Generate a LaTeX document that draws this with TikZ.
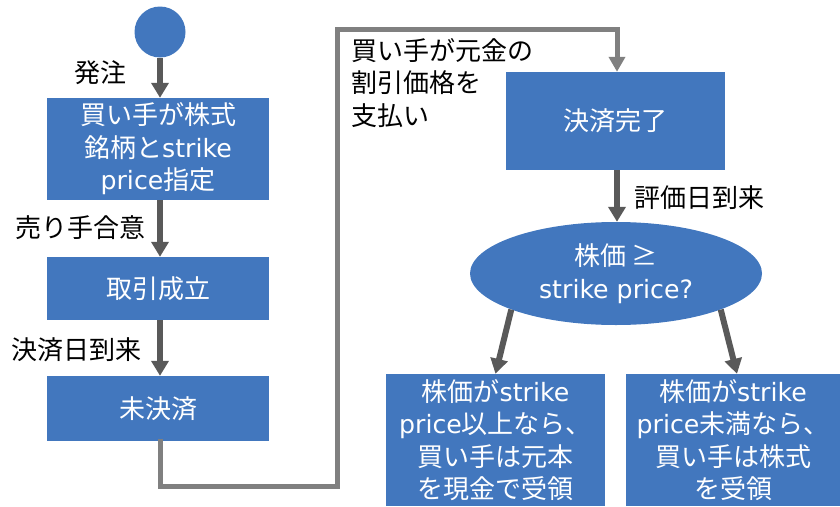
\documentclass[tikz,border=0pt]{standalone}
\usepackage{fontspec}
\setmainfont{Noto Sans CJK JP}
\newfontfamily\lat{DejaVu Sans}[Scale=0.97]
\usetikzlibrary{arrows.meta,shapes.geometric,calc}
\definecolor{boxblue}{RGB}{66,119,190}
\definecolor{arrdark}{RGB}{89,89,89}
\definecolor{loopgray}{RGB}{128,128,128}
\begin{document}
\begin{tikzpicture}[x=1pt,y=-1pt,
  every node/.style={font=\fontsize{26}{32.5}\selectfont, inner sep=0pt},
  stepbox/.style={rectangle, fill=boxblue, text=white, align=center},
  lbl/.style={text=black, align=left},
  darr/.style={draw=arrdark, line width=6pt, -{Triangle[width=17pt,length=15pt]}},
  garr/.style={draw=loopgray, line width=5pt, line join=miter, -{Triangle[width=16pt,length=15pt]}}
]
\useasboundingbox (0,0) rectangle (840,506);
\node[circle, fill=boxblue, minimum size=51pt] (start) at (160,32) {};
\node[stepbox, minimum width=222pt, minimum height=102pt] (b1) at (158,149) {買い手が株式\\銘柄と{\lat strike}\\{\lat price}指定};
\node[stepbox, minimum width=222pt, minimum height=63pt] (b2) at (158,288.5) {取引成立};
\node[stepbox, minimum width=222pt, minimum height=65pt] (b3) at (158,408.5) {未決済};
\node[stepbox, minimum width=219pt, minimum height=98pt] (b4) at (615.5,121) {決済完了};
\node[ellipse, fill=boxblue, text=white, align=center, minimum width=292pt, minimum height=103pt] (ell) at (616,273.5) {株価 ≥\\{\lat strike price?}};
\node[stepbox, minimum width=219pt, minimum height=132pt] (b5) at (495.5,440) {株価が{\lat strike}\\{\lat price}以上なら、\\買い手は元本\\を現金で受領};
\node[stepbox, minimum width=214pt, minimum height=132pt] (b6) at (733,440) {株価が{\lat strike}\\{\lat price}未満なら、\\買い手は株式\\を受領};

\draw[darr] (start.south -| 160,0) -- (b1.north -| 160,0);
\draw[darr] (b1.south -| 160,0) -- (b2.north -| 160,0);
\draw[darr] (b2.south -| 160,0) -- (b3.north -| 160,0);
\draw[darr] (b4.south -| 617,0) -- (ell.north -| 617,0);
\draw[darr] (ell.199) -- (b5.north);
\draw[darr] (ell.-19) -- ([xshift=4pt]b6.north);
\draw[garr] ([yshift=2pt]b3.south -| 160,0) -- (160,486) -- (337,486) -- (337,29) -- (617,29) -- (b4.north -| 617,0);

\node[lbl] (l1) at (100,73) {発注};
\node[lbl] (l2) at (80,228) {売り手合意};
\node[lbl] (l3) at (76,350) {決済日到来};
\node[lbl, anchor=north west] (l4) at (351,38) {買い手が元金の\\割引価格を\\支払い};
\node[lbl] (l5) at (699,198) {評価日到来};
\end{tikzpicture}
\end{document}
